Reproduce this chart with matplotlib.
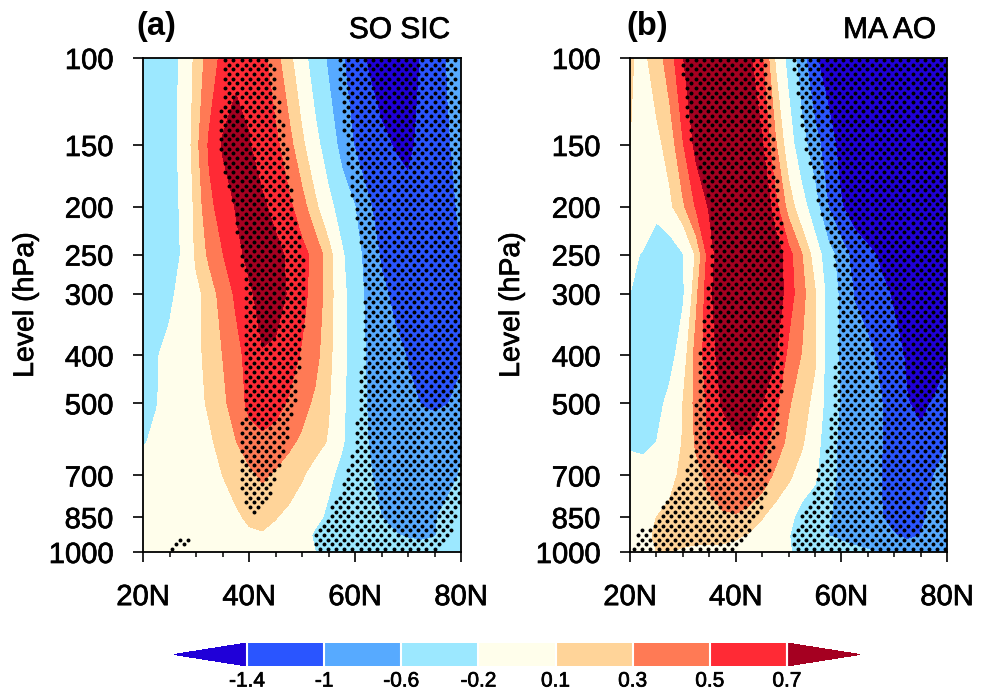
import numpy as np
import matplotlib
matplotlib.use("Agg")
import matplotlib.pyplot as plt
import matplotlib.patheffects as pe

plt.rcParams['font.family'] = ['Liberation Sans', 'DejaVu Sans']

lats = np.arange(20, 80.1, 2.5)
levels_hpa = [100, 150, 200, 250, 300, 400, 500, 600, 700, 850, 925, 1000]

# zonal mean anomalies, rows follow levels_hpa and columns follow lats
so_sic = [
    [-0.30, -0.30, -0.30, -0.15, 0.17, 0.39, 0.55, 0.66, 0.65, 0.57, 0.37, 0.17, -0.08, -0.37, -0.66, -0.96, -1.20, -1.44, -1.55, -1.65, -1.60, -1.38, -1.18, -0.98, -0.85],
    [-0.32, -0.32, -0.30, -0.13, 0.24, 0.53, 0.72, 0.77, 0.71, 0.62, 0.55, 0.37, 0.15, -0.10, -0.38, -0.72, -1.03, -1.15, -1.33, -1.42, -1.50, -1.30, -1.17, -1.03, -0.90],
    [-0.35, -0.35, -0.30, -0.16, 0.17, 0.45, 0.58, 0.71, 0.76, 0.73, 0.65, 0.55, 0.38, 0.15, -0.10, -0.36, -0.60, -0.96, -1.12, -1.22, -1.25, -1.22, -1.15, -1.07, -0.96],
    [-0.40, -0.40, -0.33, -0.17, 0.14, 0.34, 0.49, 0.65, 0.74, 0.78, 0.75, 0.67, 0.57, 0.43, 0.20, -0.15, -0.45, -0.76, -1.05, -1.17, -1.20, -1.20, -1.15, -1.10, -1.00],
    [-0.42, -0.38, -0.26, -0.10, 0.03, 0.20, 0.38, 0.53, 0.67, 0.76, 0.78, 0.68, 0.55, 0.43, 0.20, -0.09, -0.41, -0.70, -0.92, -1.08, -1.15, -1.20, -1.20, -1.17, -1.10],
    [-0.30, -0.22, -0.12, -0.04, 0.05, 0.16, 0.30, 0.43, 0.57, 0.69, 0.66, 0.58, 0.48, 0.36, 0.17, -0.10, -0.38, -0.66, -0.77, -0.90, -1.02, -1.10, -1.15, -1.15, -1.08],
    [-0.28, -0.21, -0.12, -0.05, 0.03, 0.13, 0.26, 0.38, 0.55, 0.61, 0.56, 0.48, 0.37, 0.26, 0.12, -0.13, -0.39, -0.63, -0.72, -0.83, -0.93, -1.01, -1.04, -1.01, -0.85],
    [-0.22, -0.15, -0.10, -0.05, 0.00, 0.06, 0.18, 0.29, 0.40, 0.45, 0.42, 0.34, 0.26, 0.18, 0.08, -0.17, -0.35, -0.60, -0.68, -0.75, -0.80, -0.85, -0.85, -0.75, -0.62],
    [-0.05, -0.03, -0.02, 0.00, 0.01, 0.04, 0.10, 0.17, 0.25, 0.33, 0.27, 0.20, 0.12, 0.00, -0.14, -0.28, -0.42, -0.56, -0.70, -0.80, -0.82, -0.80, -0.75, -0.68, -0.58],
    [-0.02, -0.02, -0.01, 0.00, 0.00, 0.01, 0.03, 0.07, 0.13, 0.16, 0.11, 0.05, -0.02, -0.12, -0.26, -0.34, -0.43, -0.52, -0.60, -0.68, -0.70, -0.68, -0.62, -0.52, -0.40],
    [0.00, 0.00, 0.00, 0.02, 0.02, 0.02, 0.03, 0.05, 0.07, 0.08, 0.04, 0.00, -0.06, -0.25, -0.30, -0.36, -0.42, -0.47, -0.52, -0.58, -0.63, -0.65, -0.62, -0.48, -0.36],
    [0.02, 0.03, 0.04, 0.05, 0.05, 0.04, 0.04, 0.03, 0.03, 0.02, 0.00, -0.05, -0.12, -0.20, -0.25, -0.28, -0.30, -0.33, -0.36, -0.40, -0.45, -0.48, -0.45, -0.40, -0.33],
]
ma_ao = [
    [0.12, 0.05, 0.20, 0.40, 0.69, 0.85, 0.95, 1.00, 0.95, 0.75, 0.52, 0.08, -0.30, -0.83, -1.35, -1.60, -1.70, -1.80, -1.90, -1.90, -1.90, -1.85, -1.80, -1.70, -1.60],
    [0.10, 0.05, 0.04, 0.18, 0.48, 0.76, 0.95, 1.05, 1.05, 0.95, 0.72, 0.33, -0.03, -0.43, -0.85, -1.20, -1.55, -1.75, -1.85, -1.90, -1.90, -1.90, -1.85, -1.80, -1.70],
    [0.00, -0.05, -0.12, 0.05, 0.26, 0.52, 0.72, 0.95, 1.05, 1.10, 0.95, 0.57, 0.22, -0.05, -0.42, -1.00, -1.37, -1.60, -1.75, -1.85, -1.90, -1.85, -1.80, -1.75, -1.70],
    [-0.15, -0.22, -0.38, -0.40, -0.22, 0.13, 0.60, 0.85, 1.00, 1.10, 1.05, 0.85, 0.58, 0.31, 0.00, -0.42, -0.80, -1.15, -1.30, -1.47, -1.60, -1.70, -1.80, -1.80, -1.75],
    [-0.20, -0.35, -0.45, -0.45, -0.25, 0.25, 0.65, 0.85, 1.00, 1.10, 1.05, 0.85, 0.60, 0.37, 0.12, -0.30, -0.70, -1.03, -1.15, -1.30, -1.45, -1.60, -1.70, -1.75, -1.70],
    [-0.40, -0.45, -0.45, -0.33, -0.02, 0.38, 0.62, 0.78, 0.90, 0.97, 0.95, 0.72, 0.45, 0.29, 0.13, -0.33, -0.66, -0.78, -0.91, -1.08, -1.27, -1.45, -1.55, -1.55, -1.45],
    [-0.40, -0.45, -0.32, -0.10, 0.10, 0.36, 0.55, 0.72, 0.82, 0.83, 0.70, 0.55, 0.32, 0.20, 0.03, -0.33, -0.65, -0.75, -0.87, -0.98, -1.20, -1.39, -1.45, -1.38, -1.20],
    [-0.25, -0.30, -0.20, -0.02, 0.11, 0.33, 0.52, 0.60, 0.67, 0.66, 0.57, 0.41, 0.25, 0.13, -0.06, -0.40, -0.70, -0.82, -0.91, -0.98, -1.15, -1.30, -1.35, -1.25, -1.02],
    [-0.05, -0.03, 0.00, 0.05, 0.14, 0.24, 0.35, 0.43, 0.49, 0.50, 0.42, 0.26, 0.14, 0.00, -0.14, -0.45, -0.68, -0.78, -0.90, -1.00, -1.12, -1.20, -1.15, -1.00, -0.82],
    [-0.02, 0.04, 0.10, 0.14, 0.17, 0.20, 0.23, 0.27, 0.28, 0.22, 0.11, 0.00, -0.10, -0.33, -0.43, -0.58, -0.67, -0.77, -0.87, -0.98, -1.15, -1.20, -1.10, -0.85, -0.60],
    [0.00, 0.06, 0.12, 0.14, 0.15, 0.15, 0.16, 0.16, 0.13, 0.08, 0.02, -0.07, -0.19, -0.30, -0.43, -0.60, -0.68, -0.75, -0.82, -0.90, -0.98, -1.08, -1.00, -0.85, -0.70],
    [0.02, 0.06, 0.10, 0.10, 0.08, 0.06, 0.05, 0.04, 0.02, 0.00, -0.03, -0.09, -0.18, -0.27, -0.33, -0.38, -0.43, -0.50, -0.56, -0.62, -0.70, -0.78, -0.78, -0.72, -0.65],
]

contour_levels = [-1.4, -1, -0.6, -0.2, 0.1, 0.3, 0.5, 0.7]
contour_labels = ['-1.4', '-1', '-0.6', '-0.2', '0.1', '0.3', '0.5', '0.7']
contour_colors = ['#2000d8', '#2a55ff', '#57aaff', '#9ce8ff', '#fffeeb',
                  '#ffd499', '#ff7a55', '#ff2a35', '#a50021']

# significant areas: the west and east limit in degrees at each pressure level
sig_levels = [100, 150, 200, 250, 300, 400, 500, 600, 700, 800, 850, 925, 1000]
a_pos_levels = [100, 150, 200, 250, 300, 400, 500, 600, 700, 800, 850]
a_pos_west = [35.3, 34.2, 37.0, 38.3, 38.9, 38.9, 38.9, 38.0, 38.0, 38.9, 41.5]
a_pos_east = [44.5, 47.1, 48.4, 50.2, 50.6, 49.9, 48.7, 47.1, 45.2, 43.3, 41.5]
a_neg_west = [56.5, 58.1, 59.8, 61.3, 61.9, 61.3, 60.6, 60.0, 58.4, 55.9, 54.6, 52.4, 52.4]
a_neg_east = [79.0, 80.5, 80.5, 80.5, 80.5, 80.5, 80.5, 80.5, 80.5, 80.0, 79.2, 78.0, 76.0]
a_low_levels = [940, 990]
a_low_west = [26.9, 25.2]
a_low_east = [29.5, 26.2]

b_pos_west = [29.5, 31.5, 35.1, 35.2, 34.6, 33.1, 32.3, 32.1, 30.1, 26.3, 25.0, 21.3, 20.0]
b_pos_east = [45.8, 47.4, 48.5, 49.3, 49.3, 49.3, 48.5, 47.7, 46.2, 45.2, 44.3, 42.0, 40.2]
b_neg_west = [50.6, 53.1, 55.8, 58.4, 59.4, 58.8, 58.4, 57.2, 55.3, 54.0, 52.1, 50.6, 50.6]
b_neg_east = [80.5] * 13

y_ticks = [100, 150, 200, 250, 300, 400, 500, 700, 850, 1000]
x_ticks = [20, 40, 60, 80]
x_labels = ['20N', '40N', '60N', '80N']

# thickens the text a little
heavy = [pe.withStroke(linewidth=0.5, foreground='k')]


def draw_stipple(ax, regions):
    for levs, west, east in regions:
        for k in range(106):
            level = 101 * np.exp(k * 0.0217)
            if level < levs[0] or level > levs[-1]:
                continue
            w = np.interp(np.log(level), np.log(levs), west)
            e = np.interp(np.log(level), np.log(levs), east)
            dots = 20 + 1.55 * np.arange(41) + (k % 2) * 0.775
            dots = dots[(dots >= w) & (dots <= e)]
            ax.scatter(dots, np.full(dots.shape, level), s=8, c='k', linewidths=0, zorder=3)


def draw_panel(ax, field, regions):
    cf = ax.contourf(lats, levels_hpa, np.array(field), levels=contour_levels,
                     colors=contour_colors, extend='both')
    draw_stipple(ax, regions)
    ax.set_yscale('log')
    ax.set_ylim(1000, 100)
    ax.set_xlim(20, 80)
    ax.set_yticks(y_ticks)
    ax.set_yticklabels([str(t) for t in y_ticks])
    ax.minorticks_off()
    ax.set_xticks(x_ticks)
    ax.set_xticklabels(x_labels)
    ax.set_xticks(np.arange(25, 80, 5), minor=True)
    ax.tick_params(axis='both', which='major', length=7.4, width=1.2, labelsize=21)
    ax.tick_params(axis='x', which='major', pad=15)
    ax.tick_params(axis='y', which='major', pad=14)
    ax.tick_params(axis='x', which='minor', length=3.7, width=1.1)
    ax.tick_params(axis='y', which='minor', length=0)
    for label in ax.get_xticklabels() + ax.get_yticklabels():
        label.set_path_effects(heavy)
    for spine in ax.spines.values():
        spine.set_linewidth(1.3)
    return cf


fig = plt.figure(figsize=(9.91, 6.93), dpi=100)
ax_a = fig.add_axes([143 / 991, 1 - 552 / 693, 318 / 991, 494 / 693])
ax_b = fig.add_axes([630 / 991, 1 - 552 / 693, 317 / 991, 494 / 693])

cf = draw_panel(ax_a, so_sic, [(a_pos_levels, a_pos_west, a_pos_east),
                               (sig_levels, a_neg_west, a_neg_east),
                               (a_low_levels, a_low_west, a_low_east)])
draw_panel(ax_b, ma_ao, [(sig_levels, b_pos_west, b_pos_east),
                         (sig_levels, b_neg_west, b_neg_east)])

for label_x in [26, 512]:
    fig.text(label_x / 991, 1 - 305 / 693, 'Level (hPa)', rotation=90, ha='center', va='center',
             fontsize=20.5, path_effects=heavy)
fig.text(136 / 991, 1 - 27 / 693, '(a)', fontsize=23.5, fontweight='bold', va='center')
fig.text(626 / 991, 1 - 27 / 693, '(b)', fontsize=23.5, fontweight='bold', va='center')
fig.text(450 / 991, 1 - 30 / 693, 'SO SIC', fontsize=21.5, ha='right', va='center', path_effects=heavy)
fig.text(936 / 991, 1 - 30 / 693, 'MA AO', fontsize=21.5, ha='right', va='center', path_effects=heavy)

cax = fig.add_axes([174 / 991, 1 - 666 / 693, 686 / 991, 23 / 693])
cb = fig.colorbar(cf, cax=cax, orientation='horizontal', extend='both', extendfrac=73 / 540,
                  drawedges=True, spacing='uniform')
cb.set_ticks(contour_levels, labels=contour_labels)
cb.ax.minorticks_off()
cb.ax.tick_params(length=0, labelsize=15, pad=4)
for label in cb.ax.get_xticklabels():
    label.set_path_effects(heavy)
cb.outline.set_visible(False)
cb.dividers.set_color('white')
cb.dividers.set_linewidth(1.5)

fig.savefig('out.png', dpi=100)
